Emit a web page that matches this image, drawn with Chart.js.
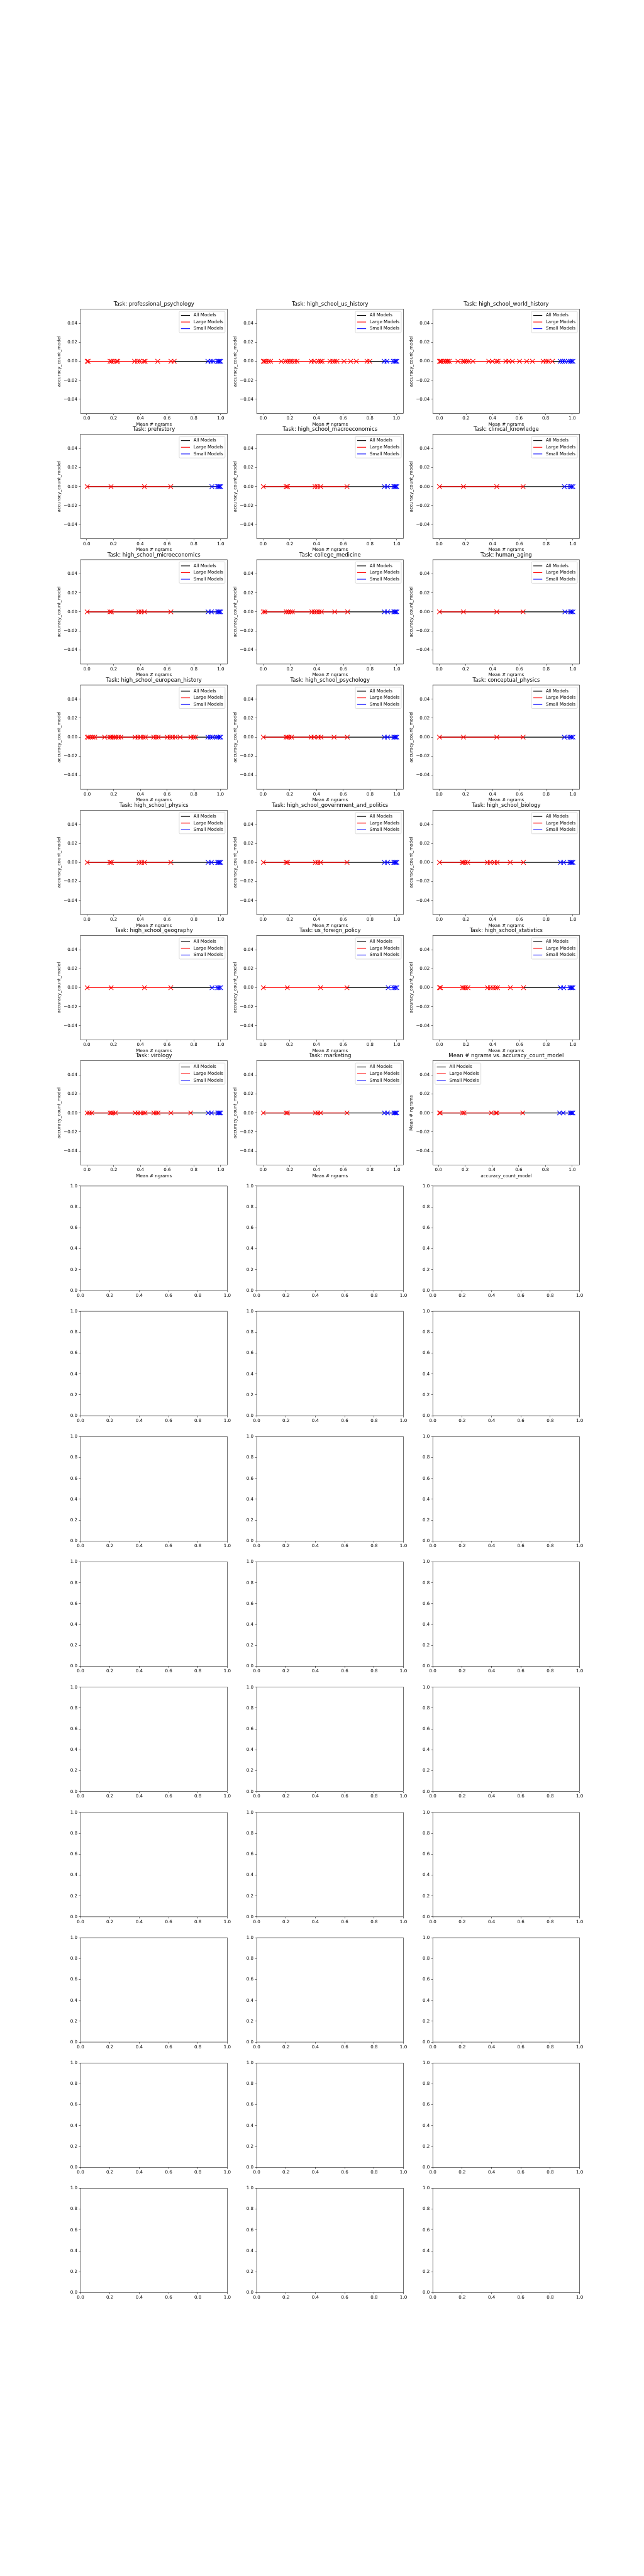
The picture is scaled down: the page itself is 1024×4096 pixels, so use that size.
<!DOCTYPE html>
<html>
<head>
<meta charset="utf-8">
<title>Mean # ngrams vs. accuracy_count_model</title>
<script src="https://cdn.jsdelivr.net/npm/chart.js@4.4.1/dist/chart.umd.min.js"></script>
<style>
  html, body { margin: 0; padding: 0; background: #fff; }
  #figure { position: relative; width: 1024px; height: 4096px; overflow: hidden; background: #fff; }
  #figure canvas { position: absolute; }
</style>
</head>
<body>
<div id="figure"></div>
<script>
// values (x = mean # ngrams per model, every model scores 0)
const seriesNames = ['All Models', 'Large Models', 'Small Models'];
const seriesColors = ['#000000', '#ff0000', '#0000ff'];
const accuracyValue = 0;
const xTicks = [0.0, 0.2, 0.4, 0.6, 0.8, 1.0];
const yTicks = [-0.04, -0.02, 0.0, 0.02, 0.04];
const yLimits = [-0.055, 0.055];
const emptyTicks = [0.0, 0.2, 0.4, 0.6, 0.8, 1.0];

const taskTitles = [
  'Task: professional_psychology', 'Task: high_school_us_history', 'Task: high_school_world_history',
  'Task: prehistory', 'Task: high_school_macroeconomics', 'Task: clinical_knowledge',
  'Task: high_school_microeconomics', 'Task: college_medicine', 'Task: human_aging',
  'Task: high_school_european_history', 'Task: high_school_psychology', 'Task: conceptual_physics',
  'Task: high_school_physics', 'Task: high_school_government_and_politics', 'Task: high_school_biology',
  'Task: high_school_geography', 'Task: us_foreign_policy', 'Task: high_school_statistics',
  'Task: virology', 'Task: marketing', 'Mean # ngrams vs. accuracy_count_model'
];

const professionalPsychologyLarge = [0.003, 0.010, 0.174, 0.185, 0.201, 0.223, 0.232, 0.357, 0.379, 0.395, 0.427, 0.436, 0.530, 0.629, 0.653];
const professionalPsychologySmall = [0.905, 0.928, 0.944, 0.978, 0.986, 0.993, 1.000];
const usHistoryLarge = [0.000, 0.006, 0.019, 0.039, 0.055, 0.135, 0.167, 0.183, 0.200, 0.216, 0.236, 0.253, 0.360, 0.381, 0.413, 0.429, 0.441, 0.501, 0.521, 0.537, 0.553, 0.606, 0.656, 0.698, 0.779, 0.799];
const usHistorySmall = [0.907, 0.928, 0.976, 0.988, 0.996, 1.002];
const worldHistoryLarge = [0.000, 0.008, 0.015, 0.031, 0.047, 0.058, 0.064, 0.074, 0.139, 0.177, 0.188, 0.204, 0.220, 0.252, 0.371, 0.398, 0.430, 0.441, 0.500, 0.522, 0.549, 0.603, 0.657, 0.700, 0.781, 0.803, 0.819, 0.851];
const worldHistorySmall = [0.910, 0.927, 0.943, 0.970, 0.986, 0.997, 1.005];
const prehistoryLarge = [0.004, 0.182, 0.431, 0.628];
const prehistorySmall = [0.935, 0.978, 0.986, 0.993, 1.000];
const macroeconomicsLarge = [0.002, 0.173, 0.183, 0.389, 0.405, 0.431, 0.628];
const macroeconomicsSmall = [0.907, 0.931, 0.978, 0.986, 0.993, 1.000];
const clinicalKnowledgeLarge = [0.003, 0.182, 0.431, 0.628];
const clinicalKnowledgeSmall = [0.936, 0.978, 0.988, 1.000];
const microeconomicsLarge = [0.002, 0.173, 0.183, 0.389, 0.405, 0.431, 0.628];
const microeconomicsSmall = [0.907, 0.931, 0.978, 0.986, 0.993, 1.000];
const collegeMedicineLarge = [0.000, 0.012, 0.173, 0.187, 0.204, 0.218, 0.364, 0.381, 0.401, 0.417, 0.435, 0.535, 0.632];
const collegeMedicineSmall = [0.907, 0.931, 0.978, 0.986, 0.993, 1.000];
const humanAgingLarge = [0.003, 0.182, 0.431, 0.628];
const humanAgingSmall = [0.940, 0.982, 0.990, 1.000];
const europeanHistoryLarge = [0.000, 0.010, 0.027, 0.043, 0.057, 0.131, 0.171, 0.179, 0.191, 0.204, 0.216, 0.236, 0.253, 0.360, 0.381, 0.401, 0.421, 0.437, 0.500, 0.517, 0.533, 0.602, 0.622, 0.642, 0.660, 0.698, 0.779, 0.799, 0.813];
const europeanHistorySmall = [0.907, 0.924, 0.940, 0.972, 0.984, 0.996, 1.002];
const hsPsychologyLarge = [0.002, 0.173, 0.183, 0.195, 0.213, 0.360, 0.381, 0.413, 0.433, 0.531, 0.630];
const hsPsychologySmall = [0.907, 0.931, 0.978, 0.986, 0.993, 1.000];
const conceptualPhysicsLarge = [0.003, 0.182, 0.431, 0.628];
const conceptualPhysicsSmall = [0.936, 0.978, 0.988, 1.000];
const hsPhysicsLarge = [0.002, 0.173, 0.183, 0.391, 0.409, 0.431, 0.628];
const hsPhysicsSmall = [0.907, 0.931, 0.978, 0.986, 0.993, 1.000];
const governmentLarge = [0.002, 0.173, 0.183, 0.391, 0.409, 0.431, 0.628];
const governmentSmall = [0.907, 0.931, 0.978, 0.986, 0.993, 1.000];
const biologyLarge = [0.002, 0.173, 0.183, 0.195, 0.213, 0.360, 0.381, 0.413, 0.433, 0.531, 0.630];
const biologySmall = [0.907, 0.931, 0.978, 0.986, 0.993, 1.000];
const geographyLarge = [0.003, 0.182, 0.431, 0.628];
const geographySmall = [0.936, 0.978, 0.988, 1.000];
const foreignPolicyLarge = [0.003, 0.182, 0.431, 0.628];
const foreignPolicySmall = [0.936, 0.978, 0.988, 1.000];
const statisticsLarge = [0.000, 0.008, 0.173, 0.183, 0.195, 0.213, 0.360, 0.381, 0.401, 0.421, 0.435, 0.531, 0.630];
const statisticsSmall = [0.907, 0.931, 0.978, 0.986, 0.993, 1.000];
const virologyLarge = [0.001, 0.018, 0.036, 0.173, 0.183, 0.195, 0.213, 0.360, 0.381, 0.401, 0.421, 0.435, 0.500, 0.517, 0.532, 0.628, 0.776];
const virologySmall = [0.907, 0.931, 0.978, 0.986, 0.993, 1.000];
const marketingLarge = [0.002, 0.173, 0.183, 0.391, 0.409, 0.431, 0.628];
const marketingSmall = [0.907, 0.931, 0.978, 0.986, 0.993, 1.000];
const overallLarge = [0.008, 0.014, 0.180, 0.192, 0.395, 0.429, 0.437, 0.630];
const overallSmall = [0.905, 0.933, 0.985, 0.992, 1.000, 1.005];

const largeByPanel = [
  professionalPsychologyLarge, usHistoryLarge, worldHistoryLarge,
  prehistoryLarge, macroeconomicsLarge, clinicalKnowledgeLarge,
  microeconomicsLarge, collegeMedicineLarge, humanAgingLarge,
  europeanHistoryLarge, hsPsychologyLarge, conceptualPhysicsLarge,
  hsPhysicsLarge, governmentLarge, biologyLarge,
  geographyLarge, foreignPolicyLarge, statisticsLarge,
  virologyLarge, marketingLarge, overallLarge
];
const smallByPanel = [
  professionalPsychologySmall, usHistorySmall, worldHistorySmall,
  prehistorySmall, macroeconomicsSmall, clinicalKnowledgeSmall,
  microeconomicsSmall, collegeMedicineSmall, humanAgingSmall,
  europeanHistorySmall, hsPsychologySmall, conceptualPhysicsSmall,
  hsPhysicsSmall, governmentSmall, biologySmall,
  geographySmall, foreignPolicySmall, statisticsSmall,
  virologySmall, marketingSmall, overallSmall
];

// figure geometry: matplotlib 20x80in at 100dpi, shrunk to 0.512
const S = 0.512;
const PT = 100 / 72 * S;
const FIG_W = 2000 * S, FIG_H = 8000 * S;
const NROWS = 16, NCOLS = 3;
const AX_W = 0.775 * FIG_W / (NCOLS + 0.2 * (NCOLS - 1));
const AX_H = 0.77 * FIG_H / (NROWS + 0.2 * (NROWS - 1));
const FS = 10 * PT, TITLE_FS = 12 * PT;
const LINE_W = 1.5 * PT, SPINE_W = 0.8 * PT, TICK_LEN = 3.5 * PT;
const MARKER_R = 10 * PT / Math.SQRT2;

Chart.defaults.font.family = "'DejaVu Sans', sans-serif";
Chart.defaults.font.size = FS;
Chart.defaults.color = '#000';

// spines on all four sides plus a matplotlib style legend box
const boxLegend = {
  id: 'boxLegend',
  afterDatasetsDraw(chart, args, opts) {
    const {ctx, chartArea: a} = chart;
    ctx.save();
    ctx.strokeStyle = '#000';
    ctx.lineWidth = SPINE_W;
    ctx.strokeRect(a.left, a.top, a.right - a.left, a.bottom - a.top);
    if (opts.loc) {
      const items = chart.data.datasets.filter(ds => ds.label)
        .sort((p, q) => seriesNames.indexOf(p.label) - seriesNames.indexOf(q.label));
      const pad = 0.4 * FS, handle = 2 * FS, gap = 0.8 * FS, spacing = 0.5 * FS, rowH = 0.99 * FS;
      ctx.font = FS + "px 'DejaVu Sans'";
      const textW = Math.max(...items.map(it => ctx.measureText(it.label).width));
      const w = 2 * pad + handle + gap + textW;
      const h = 2 * pad + items.length * rowH + (items.length - 1) * spacing;
      const x = opts.loc === 'upper left' ? a.left + 0.5 * FS : a.right - 0.5 * FS - w;
      const y = a.top + 0.5 * FS;
      ctx.beginPath();
      ctx.roundRect(x, y, w, h, 0.2 * FS);
      ctx.fillStyle = 'rgba(255,255,255,0.8)';
      ctx.fill();
      ctx.strokeStyle = '#cccccc';
      ctx.lineWidth = PT;
      ctx.stroke();
      ctx.textAlign = 'left';
      ctx.textBaseline = 'middle';
      items.forEach((it, k) => {
        const cy = y + pad + rowH / 2 + k * (rowH + spacing);
        ctx.strokeStyle = it.borderColor;
        ctx.lineWidth = LINE_W;
        ctx.beginPath();
        ctx.moveTo(x + pad, cy);
        ctx.lineTo(x + pad + handle, cy);
        ctx.stroke();
        ctx.fillStyle = '#000';
        ctx.fillText(it.label, x + pad + handle + gap, cy);
      });
    }
    ctx.restore();
  }
};

const fig = document.getElementById('figure');

function axisOpts(ticks, lo, hi, digits, fitSize, isX, title, titlePad) {
  return {
    type: 'linear',
    min: lo,
    max: hi,
    bounds: 'data',
    grid: { display: true, drawOnChartArea: false, drawTicks: true, tickLength: TICK_LEN, tickColor: '#000', tickWidth: SPINE_W },
    border: { display: false },
    ticks: {
      autoSkip: false, maxRotation: 0, minRotation: 0,
      padding: isX ? 1.2 : 2.5,
      font: { size: FS },
      color: '#000',
      callback: v => v.toFixed(digits).replace('-', '\u2212')
    },
    title: title ? { display: true, text: title, color: '#000', font: { size: FS }, padding: titlePad } : { display: false },
    afterBuildTicks: scale => { scale.ticks = ticks.map(v => ({ value: v })); },
    afterFit: scale => { if (isX) { scale.height = fitSize; } else { scale.width = fitSize; } }
  };
}

function makePanel(i) {
  const row = Math.floor(i / NCOLS), col = i % NCOLS;
  const axLeft = 0.125 * FIG_W + col * AX_W * 1.2;
  const axTop = 0.12 * FIG_H + row * AX_H * 1.2;
  const cLeft = Math.floor(axLeft - 48), cTop = Math.floor(axTop - 18);
  const L = axLeft - cLeft, T = axTop - cTop;
  const W = Math.ceil(L + AX_W + 10), H = Math.ceil(T + AX_H + 26);
  const R = W - L - AX_W, B = H - T - AX_H;

  const canvas = document.createElement('canvas');
  canvas.width = W; canvas.height = H;
  canvas.style.left = cLeft + 'px'; canvas.style.top = cTop + 'px';
  canvas.style.width = W + 'px'; canvas.style.height = H + 'px';
  fig.appendChild(canvas);

  const hasData = i < taskTitles.length;
  let datasets = [], xOpts, yOpts, legendLoc = null;
  if (hasData) {
    const large = largeByPanel[i], small = smallByPanel[i];
    const all = large.concat(small);
    const lo = Math.min(...all), hi = Math.max(...all), span = hi - lo;
    const overall = i === taskTitles.length - 1;
    const xTitle = overall ? 'accuracy_count_model' : 'Mean # ngrams';
    const yTitle = overall ? 'Mean # ngrams' : 'accuracy_count_model';
    legendLoc = overall ? 'upper left' : 'upper right';
    const pts = xs => xs.map(x => ({ x: x, y: accuracyValue }));
    const fit = xs => [{ x: Math.min(...xs), y: accuracyValue }, { x: Math.max(...xs), y: accuracyValue }];
    const markers = (xs, color) => ({
      data: pts(xs), showLine: false, pointStyle: 'crossRot', pointRadius: MARKER_R,
      pointBorderColor: color, pointBackgroundColor: color, pointBorderWidth: LINE_W, borderColor: color
    });
    const fitLine = (xs, k) => ({
      label: seriesNames[k], data: fit(xs), showLine: true, pointRadius: 0,
      borderColor: seriesColors[k], borderWidth: LINE_W, backgroundColor: seriesColors[k]
    });
    datasets = [
      markers(large, seriesColors[1]),
      markers(small, seriesColors[2]),
      fitLine(large, 1),
      fitLine(small, 2),
      fitLine(all, 0)
    ];
    xOpts = axisOpts(xTicks, lo - 0.05 * span, hi + 0.05 * span, 1, B, true, xTitle,
      { top: 0, bottom: B - 17.5 - 0.6 * FS });
    yOpts = axisOpts(yTicks, yLimits[0], yLimits[1], 2, L, false, yTitle,
      { top: L - 34.2 - 0.6 * FS, bottom: 0 });
  } else {
    xOpts = axisOpts(emptyTicks, 0, 1, 1, B, true, null, 0);
    yOpts = axisOpts(emptyTicks, 0, 1, 1, L, false, null, 0);
  }

  new Chart(canvas, {
    type: 'scatter',
    data: { datasets: datasets },
    options: {
      responsive: false,
      animation: false,
      devicePixelRatio: 1,
      events: [],
      layout: { padding: { left: 0, top: hasData ? 0 : T, right: R, bottom: 0 } },
      scales: { x: xOpts, y: yOpts },
      plugins: {
        legend: { display: false },
        tooltip: { enabled: false },
        title: {
          display: hasData,
          text: hasData ? taskTitles[i] : '',
          fullSize: false,
          color: '#000',
          font: { size: TITLE_FS, weight: 'normal' },
          padding: { top: T - 7.5 - 0.6 * TITLE_FS, bottom: 7.5 - 0.6 * TITLE_FS }
        },
        boxLegend: { loc: legendLoc }
      }
    },
    plugins: [boxLegend]
  });
}

for (let i = 0; i < NROWS * NCOLS; i++) {
  makePanel(i);
}
</script>
</body>
</html>
